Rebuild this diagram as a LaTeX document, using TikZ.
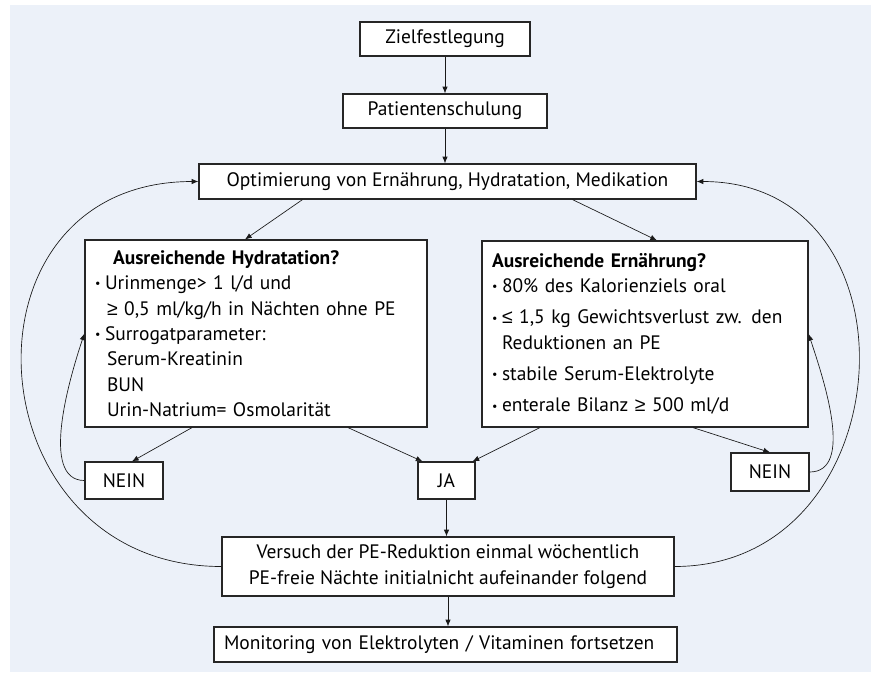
\documentclass[tikz,border=0pt]{standalone}
\usepackage{fontspec}
\setmainfont{PT Sans}
\newfontfamily\zeichen{Liberation Sans}
\usetikzlibrary{arrows.meta,calc}
\pgfdeclarelayer{bg}
\pgfsetlayers{bg,main}
\definecolor{hinter}{RGB}{236,241,249}
\tikzset{
  box/.style={draw=black!85, line width=0.9pt, fill=white, inner sep=0pt, align=center},
  kasten/.style={box, inner xsep=7.5pt, align=left},
  pfeil/.style={-{Latex[length=5pt,width=4pt]}, line width=0.5pt, black!90}
}
\newcommand{\pkt}{\makebox[7.5pt][l]{\raisebox{1.3pt}{\fontsize{9}{9}\selectfont\textbullet}}}
\newcommand{\grgl}{{\zeichen ≥}}
\newcommand{\klgl}{{\zeichen ≤}}

\begin{document}
\begin{tikzpicture}[x=0.75pt, y=-0.75pt, font=\fontsize{14.6}{19}\selectfont]
                \useasboundingbox (0,0) rectangle (871,672);
                \begin{pgfonlayer}{bg}
                    \fill[hinter] (10,5) rectangle (871,672);
                \end{pgfonlayer}

                \node[box, minimum width=127.5pt, minimum height=25.5pt] (Z) at (445,39) {Zielfestlegung};
                \node[box, minimum width=153pt, minimum height=25.5pt] (P) at (445,111) {Patientenschulung};
                \node[box, minimum width=372.75pt, minimum height=26.25pt] (O) at (447.5,181.5) {Optimierung von Ernährung, Hydratation, Medikation};

                \node[kasten, text width=241.5pt, minimum height=140.25pt] (H) at (256,333.5) {%
                    \hspace*{13.5pt}\textbf{Ausreichende Hydratation?}\\
                    \pkt Urinmenge> 1 l/d und\\
                    \hspace*{9pt}\grgl{} 0,5 ml/kg/h in Nächten ohne PE\\
                    \pkt Surrogatparameter:\\
                    \hspace*{9pt}Serum-Kreatinin\\
                    \hspace*{9pt}BUN\\
                    \hspace*{9pt}Urin-Natrium= Osmolarität};
                \node[kasten, text width=229.5pt, minimum height=139.5pt] (E) at (645,334) {%
                    \textbf{Ausreichende Ernährung?}\\
                    \pkt 80\% des Kalorienziels oral\\[4.5pt]
                    \pkt \klgl{} 1,5 kg Gewichtsverlust zw. den\\
                    \hspace*{7.5pt}Reduktionen an PE\\[4.5pt]
                    \pkt stabile Serum-Elektrolyte\\[4.5pt]
                    \pkt enterale Bilanz \grgl{} 500 ml/d};

                \node[box, minimum width=58.5pt, minimum height=27.75pt] (N1) at (124,480.5) {NEIN};
                \node[box, minimum width=42.75pt, minimum height=27.75pt] (J) at (446.5,480.5) {JA};
                \node[box, minimum width=58.5pt, minimum height=28.5pt] (N2) at (770,472) {NEIN};

                \node[box, minimum width=339pt, minimum height=44.25pt] (V) at (448,566.5) {Versuch der PE-Reduktion einmal wöchentlich\\PE-freie Nächte initialnicht aufeinander folgend};
                \node[kasten, text width=332.25pt, minimum height=26.25pt] (Mon) at (445.5,644.5) {Monitoring von Elektrolyten / Vitaminen fortsetzen};

                \draw[pfeil] (Z) -- (P);
                \draw[pfeil] (P.south) -- (P.south |- O.north);
                \draw[pfeil] ($(O.south)+(-145,0)$) -- ($(H.north)+(-11,0)$);
                \draw[pfeil] ($(O.south)+(125,0)$) -- ($(E.north)+(12,0)$);
                \draw[pfeil] ($(H.south)+(-64,0)$) -- ($(N1.north)+(8,0)$);
                \draw[pfeil] ($(H.south)+(92,0)$) -- ($(J.north)+(-24,0)$);
                \draw[pfeil] ($(E.south)+(-105,0)$) -- ($(J.north)+(26,0)$);
                \draw[pfeil] ($(E.south)+(48,0)$) -- (N2.north);
                \draw[pfeil] (J.south) -- (J.south |- V.north);
                \draw[pfeil] (V.south) -- (V.south |- Mon.north);

                \draw[pfeil] (N1.west) .. controls +(-45,0) and +(-15,45) .. (H.west);
                \draw[pfeil] (N2.east) .. controls +(45,0) and +(15,45) .. (E.east);
                \draw[pfeil] (V.west) .. controls +(-250,0) and +(-250,0) .. (O.west);
                \draw[pfeil] (V.east) .. controls +(230,0) and +(230,0) .. (O.east);
\end{tikzpicture}
\end{document}
